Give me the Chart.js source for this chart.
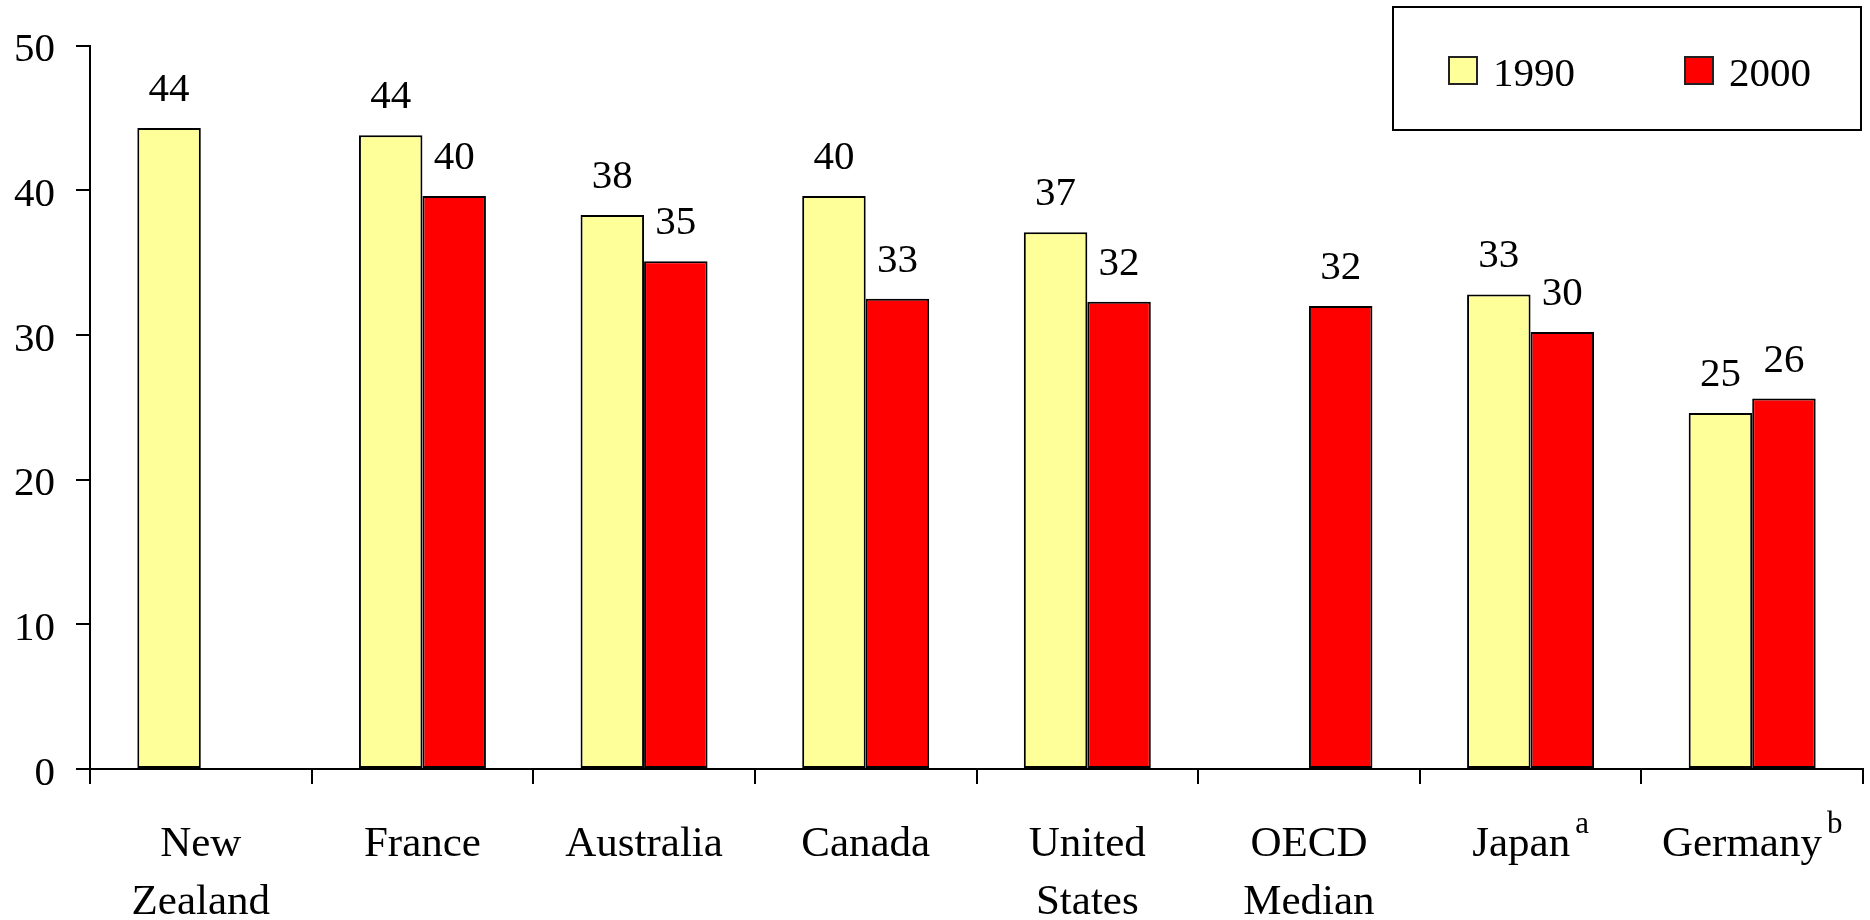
<!DOCTYPE html>
<html>
<head>
<meta charset="utf-8">
<script src="https://cdn.jsdelivr.net/npm/chart.js@4.4.0/dist/chart.umd.min.js"></script>
<style>
    body { margin: 0; background: #fff; }
    #wrap { width: 1870px; height: 920px; }
</style>
</head>
<body>
<div id="wrap"><canvas id="taxChart" width="1870" height="920"></canvas></div>
<script>

// countries, with footnote letters shown as superscripts under the axis
const countries = [["New", "Zealand"], ["France"], ["Australia"], ["Canada"], ["United", "States"], ["OECD", "Median"], ["Japan"], ["Germany"]];
const notes = ["", "", "", "", "", "", "a", "b"];

const seriesNames = ["1990", "2000"];
const values1990 = [44.3, 43.8, 38.3, 39.6, 37.1, null, 32.8, 24.6];
const values2000 = [null, 39.6, 35.1, 32.5, 32.3, 32.0, 30.2, 25.6];

const yTicks = [0, 10, 20, 30, 40, 50];

const FONT = '"Liberation Serif", "Times New Roman", serif';

// value labels above each bar
const barValues = {
    id: "barValues",
    afterDatasetsDraw(chart) {
        const ctx = chart.ctx;
        ctx.save();
        ctx.font = "41px " + FONT;
        ctx.fillStyle = "#000";
        ctx.textAlign = "center";
        ctx.textBaseline = "alphabetic";
        chart.data.datasets.forEach((ds, di) => {
            chart.getDatasetMeta(di).data.forEach((bar, i) => {
                const v = ds.data[i];
                if (v === null) return;
                ctx.fillText(String(Math.round(v)), bar.x, bar.y - 27);
            });
        });
        ctx.restore();
    }
};

// category names under the x axis (multi-line, optional superscript)
const categoryLabels = {
    id: "categoryLabels",
    afterDraw(chart) {
        const ctx = chart.ctx;
        const x = chart.scales.x;
        const top = chart.chartArea.bottom;
        ctx.save();
        ctx.fillStyle = "#000";
        ctx.textBaseline = "alphabetic";
        ctx.textAlign = "left";
        chart.data.labels.forEach((lines, i) => {
            const cx = x.getPixelForValue(i);
            lines.forEach((line, li) => {
                const base = top + 87 + li * 58;
                ctx.font = "43px " + FONT;
                const w = ctx.measureText(line).width;
                let sw = 0;
                const note = li === 0 ? notes[i] : "";
                if (note) {
                    ctx.font = "31px " + FONT;
                    sw = ctx.measureText(note).width + 5;
                }
                const start = cx - (w + sw) / 2;
                ctx.font = "43px " + FONT;
                ctx.fillText(line, start, base);
                if (note) {
                    ctx.font = "31px " + FONT;
                    ctx.fillText(note, start + w + 5, base - 23);
                }
            });
        });
        ctx.restore();
    }
};

// boxed legend in the top right corner
const boxLegend = {
    id: "boxLegend",
    afterDraw(chart) {
        const ctx = chart.ctx;
        ctx.save();
        ctx.fillStyle = "#fff";
        ctx.fillRect(1393, 7, 468, 123);
        ctx.strokeStyle = "#000";
        ctx.lineWidth = 2;
        ctx.strokeRect(1393, 7, 468, 123);
        const xs = [1449, 1685];
        chart.data.datasets.forEach((ds, i) => {
            ctx.fillStyle = ds.backgroundColor;
            ctx.fillRect(xs[i], 57, 28, 27);
            ctx.strokeStyle = "#222";
            ctx.lineWidth = 2;
            ctx.strokeRect(xs[i], 57, 28, 27);
            ctx.fillStyle = "#000";
            ctx.font = "41px " + FONT;
            ctx.textBaseline = "alphabetic";
            ctx.textAlign = "left";
            ctx.fillText(ds.label, xs[i] + 44, 86);
        });
        ctx.restore();
    }
};

new Chart(document.getElementById("taxChart"), {
    type: "bar",
    data: {
        labels: countries,
        datasets: [
            {
                label: seriesNames[0],
                data: values1990,
                backgroundColor: "#FFFF99",
                borderColor: "#000",
                borderWidth: 2,
                borderSkipped: false
            },
            {
                label: seriesNames[1],
                data: values2000,
                backgroundColor: "#FF0000",
                borderColor: "#000",
                borderWidth: 2,
                borderSkipped: false
            }
        ]
    },
    options: {
        responsive: false,
        animation: false,
        devicePixelRatio: 1,
        layout: { padding: { top: 36, right: 7, left: 0, bottom: 0 } },
        datasets: { bar: { categoryPercentage: 0.573, barPercentage: 1 } },
        plugins: {
            legend: { display: false },
            tooltip: { enabled: false }
        },
        scales: {
            x: {
                afterFit: s => { s.height = 151; },
                ticks: { display: false },
                grid: { drawOnChartArea: false, tickLength: 15, color: "#000", lineWidth: 2, offset: true },
                border: { color: "#000", width: 2 }
            },
            y: {
                min: yTicks[0],
                max: yTicks[yTicks.length - 1],
                afterFit: s => { s.width = 90; },
                afterBuildTicks: s => { s.ticks = yTicks.map(v => ({ value: v })); },
                ticks: {
                    color: "#000",
                    padding: 21,
                    labelOffset: 5,
                    font: { family: FONT, size: 41 }
                },
                grid: { drawOnChartArea: false, tickLength: 14, color: "#000", lineWidth: 2 },
                border: { color: "#000", width: 2 }
            }
        }
    },
    plugins: [barValues, categoryLabels, boxLegend]
});

</script>
</body>
</html>
